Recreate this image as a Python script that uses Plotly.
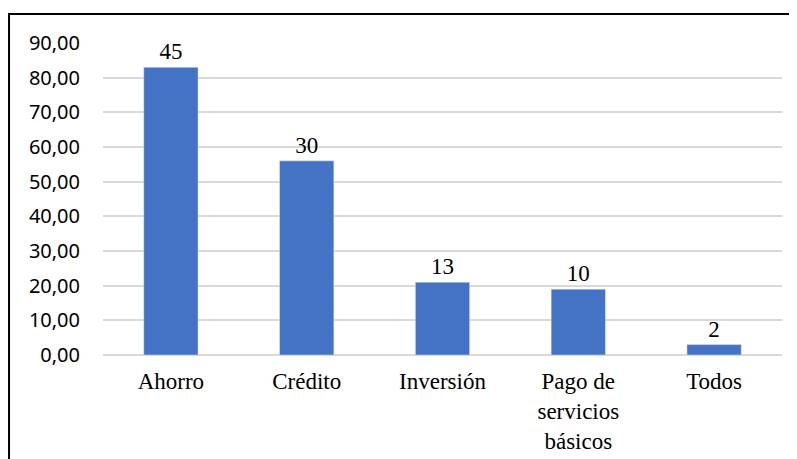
import plotly.graph_objects as go

categorias = ["Ahorro", "Crédito", "Inversión", "Pago de<br>servicios<br>básicos", "Todos"]
porcentajes = [83.0, 56.0, 21.0, 19.0, 3.0]
frecuencias = ["45", "30", "13", "10", "2"]
ticks_y = [0, 10, 20, 30, 40, 50, 60, 70, 80, 90]

fig = go.Figure()
fig.add_trace(go.Bar(x=categorias, y=porcentajes,
                     text=frecuencias,
                     textposition='outside',
                     cliponaxis=False,
                     textfont=dict(family='Liberation Serif', size=23, color='black'),
                     marker=dict(color='#4472C4'),
                     width=0.4))

# el navegador deja 8px de margen en el body, por eso se compensa aqui
fig.update_layout(
    width=789, height=451,
    margin=dict(l=95, r=15, t=35, b=104),
    paper_bgcolor='white', plot_bgcolor='white',
    separators=',.',
    showlegend=False,
    shapes=[
        dict(type='line', xref='paper', yref='paper', x0=-0.14, x1=1.03,
             y0=1.093, y1=1.093, line=dict(color='black', width=2)),
        dict(type='line', xref='paper', yref='paper', x0=-0.1384, x1=-0.1384,
             y0=1.093, y1=-0.35, line=dict(color='black', width=2)),
    ],
)
fig.update_yaxes(range=[0, 90], tickvals=ticks_y, tickformat='.2f',
                 automargin=False,
                 showgrid=True, gridcolor='#D9D9D9', gridwidth=1.5,
                 zeroline=True, zerolinecolor='#D9D9D9', zerolinewidth=1.5,
                 showline=False, ticklabelstandoff=22,
                 tickfont=dict(family='Noto Sans', size=20, color='black'))
fig.update_xaxes(showline=False, showgrid=False, ticklabelstandoff=10,
                 automargin=False,
                 tickfont=dict(family='Liberation Serif', size=23, color='black'))

fig.write_html("out.html")
